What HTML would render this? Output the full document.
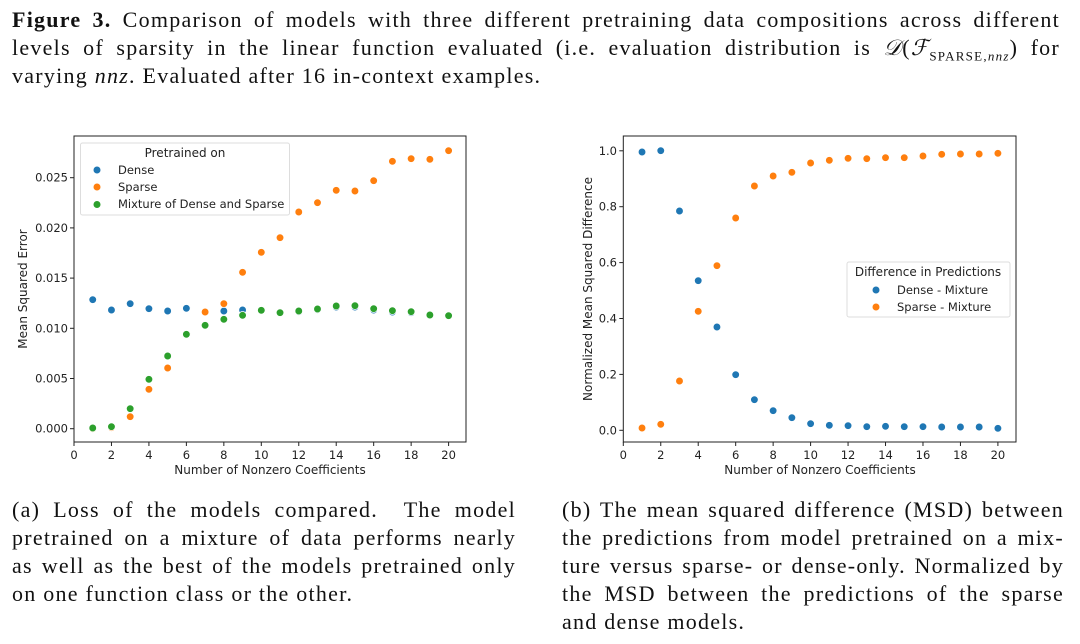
<!DOCTYPE html>
<html><head><meta charset="utf-8">
<style>
body{margin:0;width:1080px;height:644px;background:#fff;overflow:hidden;position:relative;font-family:"Liberation Serif",serif;color:#111}
.l{position:absolute;font-size:22px;line-height:28px;letter-spacing:1.25px;white-space:nowrap;text-align:justify;text-align-last:justify}
.e{text-align-last:left}
svg{position:absolute;left:0;top:0}
svg text{font-family:"DejaVu Sans","Liberation Sans",sans-serif;fill:#222}
</style></head><body>
<div class="l" style="left:12px;top:6px;width:1048px"><b>Figure 3.</b> Comparison of models with three different pretraining data compositions across different</div>
<div class="l" style="left:12px;top:34px;width:1048px">levels of sparsity in the linear function evaluated (i.e. evaluation distribution is <i>𝒟</i>(<i>ℱ</i><sub style="font-size:13px">SPARSE,<i>nnz</i></sub>) for</div>
<div class="l e" style="left:12px;top:62px"><span>varying <i>nnz</i>. Evaluated after 16 in-context examples.</span></div>

<div class="l" style="left:12px;top:496px;width:504px">(a) Loss of the models compared.&nbsp; The model</div>
<div class="l" style="left:12px;top:524px;width:504px">pretrained on a mixture of data performs nearly</div>
<div class="l" style="left:12px;top:552px;width:504px">as well as the best of the models pretrained only</div>
<div class="l e" style="left:12px;top:580px">on one function class or the other.</div>

<div class="l" style="left:562px;top:496px;width:502px">(b) The mean squared difference (MSD) between</div>
<div class="l" style="left:562px;top:524px;width:502px">the predictions from model pretrained on a mix-</div>
<div class="l" style="left:562px;top:552px;width:502px">ture versus sparse- or dense-only. Normalized by</div>
<div class="l" style="left:562px;top:580px;width:502px">the MSD between the predictions of the sparse</div>
<div class="l e" style="left:562px;top:608px">and dense models.</div>
<svg id="s" width="1080" height="644" xmlns="http://www.w3.org/2000/svg">
<rect x="74" y="136" width="392" height="306" fill="none" stroke="#222" stroke-width="1"/>
<rect x="623.3" y="136" width="392.7" height="306" fill="none" stroke="#222" stroke-width="1"/>
<g id="ax" font-size="11.5"></g>
<text x="270" y="474" font-size="12" text-anchor="middle">Number of Nonzero Coefficients</text>
<text x="820" y="474" font-size="12" text-anchor="middle">Number of Nonzero Coefficients</text>
<text transform="translate(27,289) rotate(-90)" font-size="12" text-anchor="middle">Mean Squared Error</text>
<text transform="translate(592,289) rotate(-90)" font-size="12" text-anchor="middle">Normalized Mean Squared Difference</text>
<rect x="80.5" y="143" width="209" height="72" rx="2" fill="#fff" stroke="#ddd"/>
<text x="185" y="157" font-size="12" text-anchor="middle">Pretrained on</text>
<circle cx="97" cy="170" r="3.5" fill="#1f77b4"/><text x="118" y="174" font-size="11.5">Dense</text>
<circle cx="97" cy="187" r="3.5" fill="#ff7f0e"/><text x="118" y="191" font-size="11.5">Sparse</text>
<circle cx="97" cy="204.5" r="3.5" fill="#2ca02c"/><text x="118" y="208" font-size="11.5">Mixture of Dense and Sparse</text>
<rect x="847" y="262" width="163" height="55" rx="2" fill="#fff" stroke="#ddd"/>
<text x="928" y="276" font-size="12" text-anchor="middle">Difference in Predictions</text>
<circle cx="876" cy="290" r="3.5" fill="#1f77b4"/><text x="897" y="294" font-size="11.5">Dense - Mixture</text>
<circle cx="876" cy="307" r="3.5" fill="#ff7f0e"/><text x="897" y="311" font-size="11.5">Sparse - Mixture</text>
<g id="pts"></g>
</svg>
<script>
var ax=document.getElementById('ax'),pts=document.getElementById('pts'),h='',p='';
function L(x1,y1,x2,y2){h+='<line x1="'+x1+'" y1="'+y1+'" x2="'+x2+'" y2="'+y2+'" stroke="#222"/>';}
function T(x,y,s,a){h+='<text x="'+x+'" y="'+y+'" text-anchor="'+a+'">'+s+'</text>';}
for(var i=0;i<=20;i+=2){var x=74+18.73*i;L(x,442,x,446);T(x,459,i,'middle');x=623.3+18.73*i;L(x,442,x,446);T(x,459,i,'middle');}
for(var i=0;i<=5;i++){var y=428.7-i*50.2;L(70,y,74,y);T(68,y+4,(i*0.005).toFixed(3),'end');}
for(var i=0;i<=5;i++){var y=430.3-i*55.9;L(619.3,y,623.3,y);T(617,y+4,(i*0.2).toFixed(1),'end');}
ax.innerHTML=h;
function P(x0,arr,c){arr.forEach(function(z,i){p+='<circle cx="'+(x0+18.73*(i+1))+'" cy="'+(130+z/3)+'" r="3.8" fill="'+c+'" stroke="#fff" stroke-width="0.7"/>';});}
P(74,[509,540,521,536,543,535,546,543,540,541,548,545,539,531,531,540,546,548,556,557],'#1f77b4');
P(74,[896,893,860,778,714,613,546,521,427,367,323,246,218,181,183,152,94,86,88,62],'#ff7f0e');
P(74,[894,890,836,748,678,613,586,568,556,541,548,543,537,528,527,536,542,545,555,557],'#2ca02c');
P(623.3,[66,62,243,452,591,734,809,842,863,881,886,887,890,889,890,890,891,891,891,895],'#1f77b4');
P(623.3,[894,883,753,544,407,264,168,138,127,99,91,85,86,83,83,78,73,72,72,70],'#ff7f0e');
pts.innerHTML=p;
</script>
</body></html>
